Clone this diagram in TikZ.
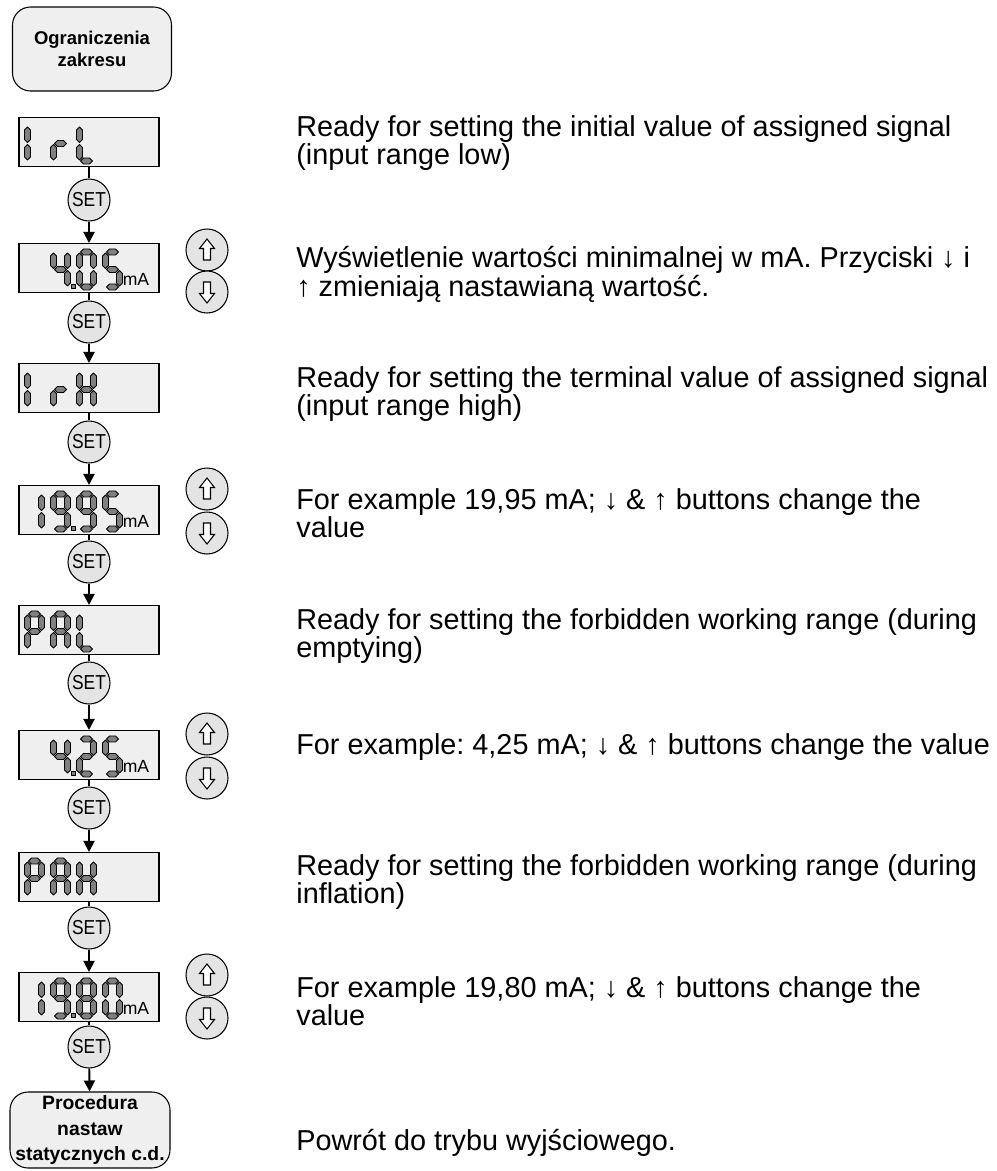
\documentclass[tikz,border=0pt]{standalone}
\usepackage{fontspec}
\setmainfont{Liberation Sans}
\usetikzlibrary{positioning, arrows.meta}

\definecolor{lcdbg}{HTML}{EFEFEF}
\definecolor{keybg}{HTML}{E4E4E4}
\definecolor{segfill}{HTML}{808080}

% one segment of the display: horizontal / vertical
\newcommand\hseg[3]{\filldraw[seg] (#1,#3) -- (#1+3,#3-3) -- (#2-3,#3-3) -- (#2,#3) -- (#2-3,#3+3) -- (#1+3,#3+3) -- cycle;}
\newcommand\vseg[3]{\filldraw[seg] (#1,#2) -- (#1+3,#2+3) -- (#1+3,#3-3) -- (#1,#3) -- (#1-3,#3-3) -- (#1-3,#2+3) -- cycle;}
\newcommand\sga[2]{\hseg{#1+4}{#1+16}{#2+3}}
\newcommand\sgb[2]{\vseg{#1+17}{#2+4}{#2+19.5}}
\newcommand\sgc[2]{\vseg{#1+17}{#2+21.5}{#2+37}}
\newcommand\sgd[2]{\hseg{#1+4}{#1+16}{#2+38}}
\newcommand\sge[2]{\vseg{#1+3}{#2+21.5}{#2+37}}
\newcommand\sgf[2]{\vseg{#1+3}{#2+4}{#2+19.5}}
\newcommand\sgg[2]{\hseg{#1+4}{#1+16}{#2+20.5}}
\newcommand\sgx[2]{}
\newcommand\lcdchar[3]{\foreach \s in {#3} {\csname sg\s\endcsname{#1}{#2}}}
% four characters in a display node
\newcommand\lcdshow[5]{\begin{scope}[shift={(#1.north west)}]
  \lcdchar{6}{6}{#2}\lcdchar{32}{6}{#3}\lcdchar{58}{6}{#4}\lcdchar{84}{6}{#5}
\end{scope}}
% decimal point and unit
\newcommand\lcdval[1]{\begin{scope}[shift={(#1.north west)}]
  \filldraw[seg] (52.5,41) rectangle (56.5,45);
  \node[unit] (#1u) at (104,43) {mA};
\end{scope}}
\newcommand\upkey[1]{\draw[hollow] (#1.center) ++(0,-11) -- ++(7.5,9.5) -- ++(-4,0) -- ++(0,11.5) -- ++(-7,0) -- ++(0,-11.5) -- ++(-4,0) -- cycle;}
\newcommand\dnkey[1]{\draw[hollow] (#1.center) ++(0,11) -- ++(7.5,-9.5) -- ++(-4,0) -- ++(0,-11.5) -- ++(-7,0) -- ++(0,11.5) -- ++(-4,0) -- cycle;}
\newcommand\setlbl{\scalebox{0.86}[1]{SET}}

\begin{document}
\frenchspacing
\begin{tikzpicture}[x=0.02cm, y=-0.02cm, >={Triangle[length=0.22cm, width=0.22cm]},
  lcd/.style={draw, fill=lcdbg, minimum width=2.8cm, minimum height=0.98cm, inner sep=0pt, line width=0.6pt},
  setk/.style={circle, draw, fill=keybg, minimum size=0.84cm, inner sep=0pt, line width=0.6pt, font=\fontsize{11.5}{12}\selectfont},
  key/.style={circle, draw, fill=keybg, minimum size=0.84cm, inner sep=0pt, line width=0.6pt},
  term/.style={draw, fill=lcdbg, rounded corners=0.36cm, align=center, inner sep=0pt, line width=0.6pt},
  txt/.style={anchor=north west, align=left, inner sep=0pt, font=\fontsize{16.4}{14.4}\selectfont},
  unit/.style={anchor=base west, inner sep=0pt, font=\fontsize{10}{10}\selectfont},
  seg/.style={fill=segfill, draw=black, line width=0.5pt, line join=round},
  hollow/.style={draw, fill=white, line width=0.6pt, line join=miter},
  conn/.style={line width=1.1pt}]

\useasboundingbox (0,0) rectangle (997,1171);

\node[term, minimum width=3.18cm, minimum height=1.68cm, font=\bfseries\fontsize{10.5}{12.5}\selectfont] (start) at (92,49) {Ograniczenia\\zakresu};

% displays
\node[lcd] (d1) at (89,142) {};
\node[lcd] (d2) at (89,268) {};
\node[lcd] (d3) at (89,388) {};
\node[lcd] (d4) at (89,510) {};
\node[lcd] (d5) at (89,630) {};
\node[lcd] (d6) at (89,755) {};
\node[lcd] (d7) at (89,877) {};
\node[lcd] (d8) at (89,997) {};

\node[term, minimum width=3.2cm, minimum height=1.52cm, font=\bfseries\fontsize{11}{14.3}\selectfont] (stop) at (90,1130) {Procedura\\nastaw\\statycznych c.d.};

% SET keys
\node[setk] (s1) at (89,200) {\setlbl};
\node[setk] (s2) at (89,322) {\setlbl};
\node[setk] (s3) at (89,442) {\setlbl};
\node[setk] (s4) at (89,562) {\setlbl};
\node[setk] (s5) at (89,683) {\setlbl};
\node[setk] (s6) at (89,808) {\setlbl};
\node[setk] (s7) at (89,928) {\setlbl};
\node[setk] (s8) at (89,1047) {\setlbl};

\draw[conn] (d1) -- (s1);  \draw[conn, ->] (s1) -- (d2);
\draw[conn] (d2) -- (s2);  \draw[conn, ->] (s2) -- (d3);
\draw[conn] (d3) -- (s3);  \draw[conn, ->] (s3) -- (d4);
\draw[conn] (d4) -- (s4);  \draw[conn, ->] (s4) -- (d5);
\draw[conn] (d5) -- (s5);  \draw[conn, ->] (s5) -- (d6);
\draw[conn] (d6) -- (s6);  \draw[conn, ->] (s6) -- (d7);
\draw[conn] (d7) -- (s7);  \draw[conn, ->] (s7) -- (d8);
\draw[conn] (d8) -- (s8);  \draw[conn, ->] (s8) -- (stop);

% display contents
\lcdshow{d1}{e,f}{e,g}{d,e,f}{x}
\lcdshow{d2}{x}{b,c,f,g}{a,b,c,d,e,f}{a,c,d,f,g}  \lcdval{d2}
\lcdshow{d3}{e,f}{e,g}{b,c,e,f,g}{x}
\lcdshow{d4}{b,c}{a,b,c,d,f,g}{a,b,c,d,f,g}{a,c,d,f,g}  \lcdval{d4}
\lcdshow{d5}{a,b,e,f,g}{a,b,c,e,f,g}{d,e,f}{x}
\lcdshow{d6}{x}{b,c,f,g}{a,b,d,e,g}{a,c,d,f,g}  \lcdval{d6}
\lcdshow{d7}{a,b,e,f,g}{a,b,c,e,f,g}{b,c,e,f,g}{x}
\lcdshow{d8}{b,c}{a,b,c,d,f,g}{a,b,c,d,e,f,g}{a,b,c,d,e,f}  \lcdval{d8}

% up / down keys
\node[key] (u2) at (207,250) {};  \node[key] (n2) at (207,292) {};
\node[key] (u4) at (207,489) {};  \node[key] (n4) at (207,533) {};
\node[key] (u6) at (207,734) {};  \node[key] (n6) at (207,778) {};
\node[key] (u8) at (207,975) {};  \node[key] (n8) at (207,1018) {};
\upkey{u2} \dnkey{n2}
\upkey{u4} \dnkey{n4}
\upkey{u6} \dnkey{n6}
\upkey{u8} \dnkey{n8}

% descriptions
\node[txt] (t1) at (296,115) {Ready for setting the initial value of assigned signal\\(input range low)};
\node[txt] (t2) at (296,246) {Wyświetlenie wartości minimalnej w mA. Przyciski ↓ i\\↑ zmieniają nastawianą wartość.};
\node[txt] (t3) at (296,366) {Ready for setting the terminal value of assigned signal\\(input range high)};
\node[txt] (t4) at (296,488) {For example 19,95 mA; ↓ \& ↑ buttons change the\\value};
\node[txt] (t5) at (296,608) {Ready for setting the forbidden working range (during\\emptying)};
\node[txt] (t6) at (296,733) {For example: 4,25 mA; ↓ \& ↑ buttons change the value};
\node[txt] (t7) at (296,854) {Ready for setting the forbidden working range (during\\inflation)};
\node[txt] (t8) at (296,976) {For example 19,80 mA; ↓ \& ↑ buttons change the\\value};
\node[txt] (t9) at (296,1129) {Powrót do trybu wyjściowego.};
\end{tikzpicture}
\end{document}
